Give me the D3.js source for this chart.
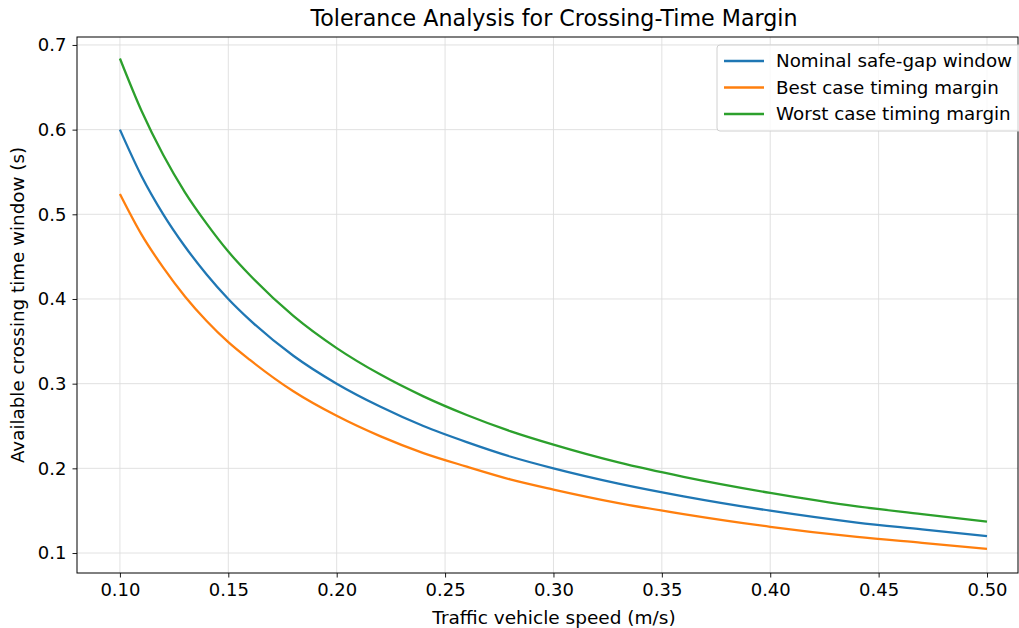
<!DOCTYPE html>
<html>
<head>
<meta charset="utf-8">
<script src="https://cdn.jsdelivr.net/npm/d3@7"></script>
<style>
	body { margin: 0; background: #fff; }
	svg { font-family: "DejaVu Sans", sans-serif; }
</style>
</head>
<body>
<svg id="chart"></svg>
<script>
// speed values (m/s) where the curves were read
const speeds = [0.10, 0.11, 0.12, 0.13, 0.14, 0.15, 0.16, 0.18, 0.20, 0.22, 0.24, 0.26, 0.28, 0.30, 0.33, 0.36, 0.40, 0.44, 0.47, 0.50];
const nominal = [0.600, 0.545, 0.500, 0.462, 0.429, 0.400, 0.375, 0.333, 0.300, 0.273, 0.250, 0.231, 0.214, 0.200, 0.182, 0.167, 0.150, 0.136, 0.128, 0.120];
const bestCase = [0.524, 0.476, 0.437, 0.403, 0.374, 0.349, 0.328, 0.291, 0.262, 0.238, 0.218, 0.202, 0.187, 0.175, 0.159, 0.146, 0.131, 0.119, 0.112, 0.105];
const worstCase = [0.684, 0.622, 0.570, 0.526, 0.489, 0.456, 0.428, 0.380, 0.342, 0.311, 0.285, 0.263, 0.244, 0.228, 0.207, 0.190, 0.171, 0.155, 0.146, 0.137];

const seriesNames = ["Nominal safe-gap window", "Best case timing margin", "Worst case timing margin"];
const seriesColors = ["#1f77b4", "#ff7f0e", "#2ca02c"];
const xTicks = [0.10, 0.15, 0.20, 0.25, 0.30, 0.35, 0.40, 0.45, 0.50];
const yTicks = [0.1, 0.2, 0.3, 0.4, 0.5, 0.6, 0.7];

const width = 1019;
const height = 628;
const margin = { top: 37, right: 1, bottom: 55, left: 77 };

const svg = d3.select("#chart")
	.attr("width", width)
	.attr("height", height);

// scales
const x = d3.scaleLinear()
	.domain([0.0802, 0.5143])
	.range([margin.left, width - margin.right]);

const y = d3.scaleLinear()
	.domain([0.0764, 0.7094])
	.range([height - margin.bottom, margin.top]);

// grid
svg.append("g")
	.selectAll("line.vgrid")
	.data(xTicks)
	.join("line")
	.attr("x1", (d) => x(d))
	.attr("x2", (d) => x(d))
	.attr("y1", margin.top)
	.attr("y2", height - margin.bottom)
	.attr("stroke", "#dedede")
	.attr("stroke-width", 0.9);

svg.append("g")
	.selectAll("line.hgrid")
	.data(yTicks)
	.join("line")
	.attr("x1", margin.left)
	.attr("x2", width - margin.right)
	.attr("y1", (d) => y(d))
	.attr("y2", (d) => y(d))
	.attr("stroke", "#dedede")
	.attr("stroke-width", 0.9);

// lines
const allSeries = [nominal, bestCase, worstCase];
const line = d3.line()
	.x((d, i) => x(speeds[i]))
	.y((d) => y(d))
	.curve(d3.curveMonotoneX);

svg.append("g")
	.selectAll("path")
	.data(allSeries)
	.join("path")
	.attr("d", (d) => line(d))
	.attr("fill", "none")
	.attr("stroke", (d, i) => seriesColors[i])
	.attr("stroke-width", 2.3);

// axes
const xAxis = svg.append("g")
	.attr("transform", `translate(0,${height - margin.bottom})`)
	.call(d3.axisBottom(x).tickValues(xTicks).tickFormat(d3.format(".2f")).tickSizeOuter(0).tickSize(4.5).tickPadding(6));

const yAxis = svg.append("g")
	.attr("transform", `translate(${margin.left},0)`)
	.call(d3.axisLeft(y).tickValues(yTicks).tickFormat(d3.format(".1f")).tickSizeOuter(0).tickSize(4.5).tickPadding(6));

[xAxis, yAxis].forEach((a) => {
	a.select(".domain").remove();
	a.selectAll("line").attr("stroke", "#000").attr("stroke-width", 0.9);
	a.selectAll("text").attr("fill", "#000").style("font-size", "18px").style("font-family", "'DejaVu Sans', sans-serif");
});

// frame
svg.append("rect")
	.attr("x", margin.left)
	.attr("y", margin.top)
	.attr("width", width - margin.right - margin.left)
	.attr("height", height - margin.bottom - margin.top)
	.attr("fill", "none")
	.attr("stroke", "#000")
	.attr("stroke-width", 1);

// title and labels
svg.append("text")
	.attr("x", 554)
	.attr("y", 26)
	.attr("text-anchor", "middle")
	.style("font-size", "22.2px")
	.text("Tolerance Analysis for Crossing-Time Margin");

svg.append("text")
	.attr("x", 554)
	.attr("y", 624)
	.attr("text-anchor", "middle")
	.style("font-size", "18.5px")
	.text("Traffic vehicle speed (m/s)");

svg.append("text")
	.attr("transform", `translate(24,${(margin.top + height - margin.bottom) / 2}) rotate(-90)`)
	.attr("text-anchor", "middle")
	.style("font-size", "18.3px")
	.text("Available crossing time window (s)");

// legend
const legend = svg.append("g").attr("transform", "translate(717,45)");
legend.append("rect")
	.attr("width", 310)
	.attr("height", 86)
	.attr("rx", 3)
	.attr("fill", "#fff")
	.attr("fill-opacity", 0.8)
	.attr("stroke", "#d0d0d0");

const items = legend.selectAll("g.item")
	.data(seriesNames)
	.join("g")
	.attr("transform", (d, i) => `translate(0,${16 + i * 26.5})`);

items.append("line")
	.attr("x1", 7)
	.attr("x2", 47)
	.attr("stroke", (d, i) => seriesColors[i])
	.attr("stroke-width", 2.3);

items.append("text")
	.attr("x", 59)
	.attr("y", 6)
	.style("font-size", "18.3px")
	.text((d) => d);
</script>
</body>
</html>
